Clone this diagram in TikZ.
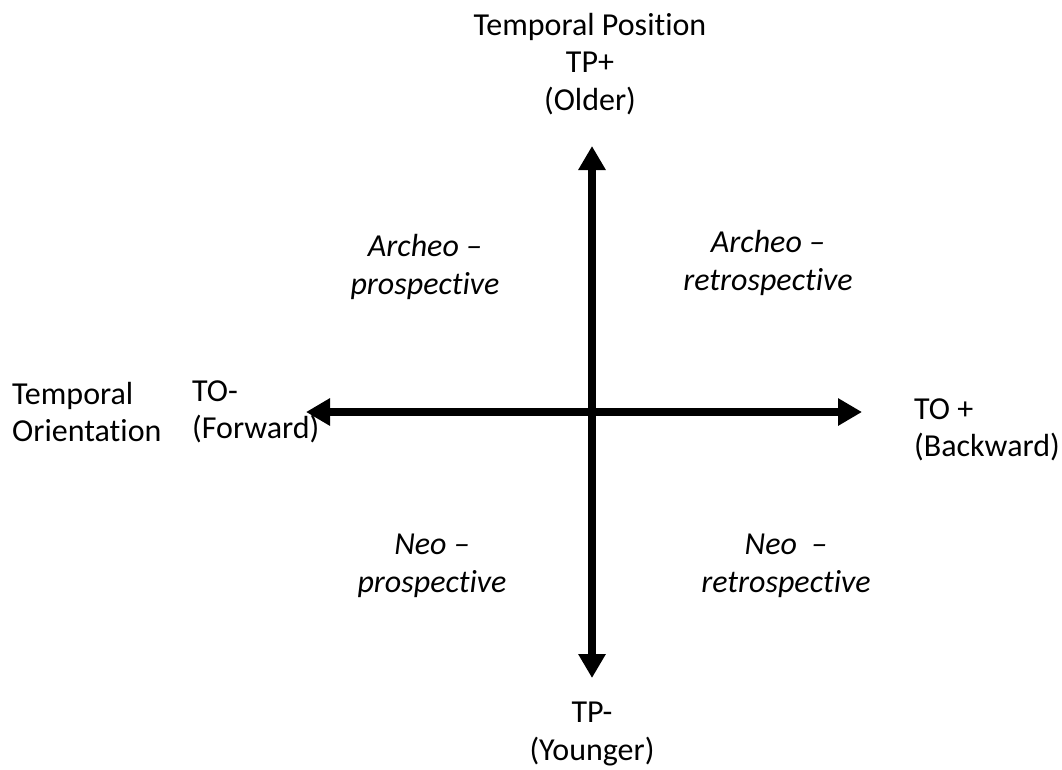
\documentclass[tikz,border=0pt]{standalone}
\usepackage{fontspec}
\setmainfont[Ligatures=NoCommon]{Carlito}
\usetikzlibrary{arrows.meta}
\begin{document}
\begin{tikzpicture}[x=1pt,y=-1pt,
  lbl/.style={inner sep=0pt,font=\fontsize{32}{37.5}\selectfont},
  quad/.style={lbl,align=center,font=\fontsize{32}{38}\selectfont\itshape},
  axis/.style={line width=8pt,{Triangle[length=24pt,width=26pt]}-{Triangle[length=24pt,width=26pt]}}]
\useasboundingbox (0,0) rectangle (1062,769);
% axis end points
\coordinate (up) at (592,146);
\coordinate (down) at (592,678);
\coordinate (left) at (306,412);
\coordinate (right) at (862,412);
\draw[axis] (down) -- (up);
\draw[axis] (left) -- (right);
% axis labels
\node[lbl,align=center] (tp) at (590,64) {Temporal Position\\TP+\\(Older)};
\node[lbl,align=center] (tm) at (592,734) {TP-\\(Younger)};
\node[lbl,align=left,anchor=west] (to) at (12,412) {Temporal\\Orientation};
\node[lbl,align=left,anchor=west] (tom) at (192,412) {TO-\\(Forward)};
\node[lbl,align=left,anchor=west] (top) at (914,430) {TO +\\(Backward)};
% quadrant labels
\node[quad] (ap) at (425,267) {Archeo –\\prospective};
\node[quad] (ar) at (768,263) {Archeo –\\retrospective};
\node[quad] (np) at (432,566) {Neo –\\prospective};
\node[quad] (nr) at (786,566) {Neo\ \ –\\retrospective};
\end{tikzpicture}
\end{document}
